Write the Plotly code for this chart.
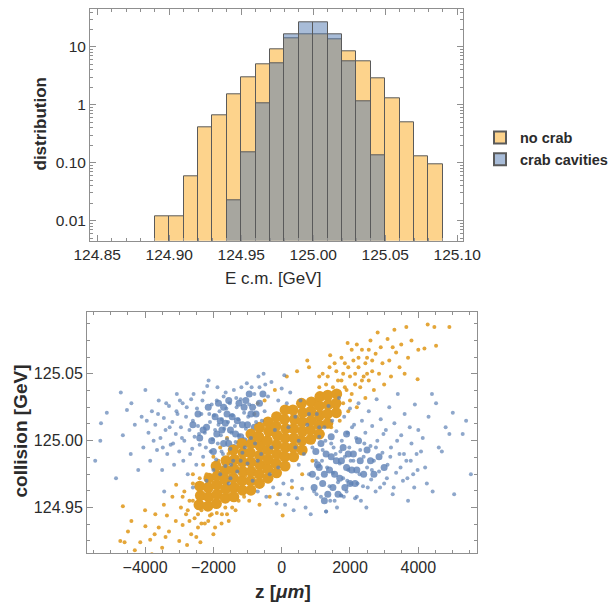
import plotly.graph_objects as go

# ---------------- histogram data ----------------
no_crab_bin_left = [124.89, 124.90, 124.91, 124.92, 124.93, 124.94, 124.95, 124.96, 124.97, 124.98,
                    124.99, 125.00, 125.01, 125.02, 125.03, 125.04, 125.05, 125.06, 125.07, 125.08]
no_crab_values = [0.0117, 0.0117, 0.059, 0.41, 0.66, 1.5, 3.04, 5.0, 9.25, 14.0,
                  16.3, 16.3, 13.6, 8.5, 5.7, 2.9, 1.3, 0.49, 0.13, 0.095]
crab_bin_left = [124.94, 124.95, 124.96, 124.97, 124.98, 124.99, 125.00, 125.01, 125.02, 125.03, 125.04]
crab_values = [0.022, 0.15, 1.07, 5.2, 16.6, 26.7, 26.7, 16.6, 5.7, 1.14, 0.136]
bin_width = 0.01

hist_xticks = [124.85, 124.90, 124.95, 125.00, 125.05, 125.10]
hist_yticks = [0.01, 0.1, 1, 10]
hist_yticktext = ["0.01", "0.10", "1", "10"]

# ---------------- scatter data (z in um, E in GeV) ----------------
crab_halo = [
    (-5460,124.985),(-5290,125.013),(-5310,125.000),(-5120,125.021),(-4710,125.036),(-4850,124.972),
    (-4530,125.023),(-4650,125.004),(-4420,124.990),(-4300,125.012),(-4200,124.978),(-4100,125.018),
    (-4400,125.028),(-4050,124.995),
    (-3990,125.038),(-3900,125.006),(-3850,124.985),(-3800,125.022),(-3700,125.012),(-3650,124.993),
    (-3600,125.030),(-3550,125.002),(-3500,124.978),(-3450,125.017),(-3400,125.008),(-3350,124.990),
    (-3300,125.026),(-3250,124.997),(-3200,125.014),(-3150,124.982),(-3100,125.005),(-3070,125.035),
    (-3050,125.020),(-3000,124.992),(-3440,124.962),
    (-2950,125.010),(-2900,125.028),(-2880,124.985),(-2850,125.000),(-2800,125.018),(-2750,124.975),
    (-2700,125.008),(-2650,125.031),(-2620,124.994),(-2600,125.015),(-2550,125.003),(-2500,124.982),
    (-2480,125.024),(-2450,125.011),(-2400,124.997),(-2350,125.020),(-2300,124.988),(-2280,125.036),
    (-2250,125.006),(-2200,124.970),(-2180,125.041),(-2140,125.045),(-2100,125.014),(-2080,124.992),
    (-2050,125.027),(-2020,125.001),(-2000,124.978),(-2600,124.965),
    (-1980,125.019),(-1950,125.008),(-1920,124.986),(-1900,125.030),(-1870,124.998),(-1850,125.012),
    (-1820,125.022),(-1800,124.975),(-1780,125.004),(-1750,125.016),(-1720,124.990),(-1700,125.033),
    (-1680,125.009),(-1650,124.981),(-1620,125.024),(-1600,125.001),(-1570,125.014),(-1550,124.968),
    (-1520,125.028),(-1500,124.994),(-1470,125.006),(-1450,125.019),(-1420,124.985),(-1400,125.038),
    (-1370,125.011),(-1350,124.999),(-1320,125.025),(-1300,124.977),(-1270,125.016),(-1250,125.004),
    (-1200,125.031),(-1150,124.991),(-1100,125.021),(-1050,125.009),(-1020,125.043),(-1000,124.983),
    (-950,125.027),(-900,125.002),(-850,124.970),(-800,125.035),(-750,125.014),(-700,124.962),
    (-650,125.040),(-600,124.990),(-530,125.050),(-500,125.022),(-450,124.958),(-400,125.033),
    (-350,124.975),(-300,125.044),(-250,124.965),(-200,125.008),(-150,124.953),(-100,125.030),
    (-50,124.960),(0,125.039),
    (50,124.968),(77,125.049),(100,124.952),(150,125.028),(200,124.960),(250,125.036),(300,124.970),
    (350,124.948),(400,125.018),(450,124.957),(500,124.982),(550,125.030),(600,124.964),(650,124.990),
    (700,124.950),(750,125.012),(800,124.975),(850,124.945),(900,124.995),(950,124.962),
    (1000,124.985),(1030,125.020),(1050,124.972),(1100,125.003),(1150,124.958),(1200,124.993),
    (1250,125.010),(1300,124.947),(1330,124.980),(1370,125.026),(1400,124.966),(1450,124.998),
    (1480,125.015),(1500,124.976),(1550,124.955),(1580,124.990),(1600,125.007),(1650,124.969),
    (1680,125.032),(1700,124.983),(1740,124.959),(1760,125.000),(1800,124.972),(1830,125.018),
    (1850,124.988),(1900,124.962),(1930,125.006),(1950,124.978),(1980,124.995),(2000,125.024),
    (2030,124.968),(2060,125.010),(2100,124.985),(2150,124.957),(2180,125.002),(2200,124.958),
    (2250,125.028),(2280,124.975),(2300,124.993),(2350,125.015),(2380,124.966),(2400,124.988),
    (2450,125.006),(2480,124.950),(2500,124.980),(2550,125.022),(2600,124.996),(2620,124.971),
    (2650,125.011),(2700,124.985),(2750,124.962),(2780,125.031),(2800,125.000),(2850,124.977),
    (2900,125.016),(2950,124.991),(3000,124.968),
    (3050,125.008),(3100,124.982),(3150,125.025),(3200,124.995),(3250,124.960),(3300,125.013),
    (3350,124.976),(3400,125.035),(3450,124.990),(3500,125.004),(3550,124.970),(3600,125.020),
    (3650,124.985),(3700,124.955),(3750,125.010),(3800,124.998),(3850,124.975),(3900,125.027),
    (3950,124.990),(4000,125.008),
    (4130,125.002),(4200,124.980),(4300,125.018),(4420,124.962),(4520,125.028),(4600,124.995),
    (4690,124.992),(4800,125.010),(4910,125.005),(5010,125.021),(5050,124.960),(5300,125.005),
    (5400,125.015),(5540,124.975),(4400,125.035),(4250,124.968),(1300,124.947),(1740,124.959),
    (-3950,125.015),(-3750,125.000),(-3620,125.020),(-3480,124.995),(-3380,125.028),(-3280,125.010),
    (-3180,124.998),(-3080,125.022),(-2980,125.030),(-2920,125.002),(-2780,125.025),(-2680,124.990),
    (-2580,125.035),(-2420,125.005),(-2320,125.030),(-2220,124.995),(-2120,125.020),(-1880,125.040),
    (-1760,124.992),(-1640,125.036),(-1480,124.982),(-1330,125.032),(-1180,125.040),(-1080,124.995),
    (-980,125.018),(-880,125.040),(-780,124.998),(-680,125.048),(-580,125.015),(-480,125.042),
    (1020,124.960),(1180,124.985),(1280,125.000),(1420,124.955),(1520,124.995),(1620,124.950),
    (1720,124.992),(1820,124.958),(1920,124.970),(2020,124.985),(2120,125.012),(2220,124.968),
    (2320,124.955),(2420,124.998),(2520,124.965),(2640,124.978),(2760,124.995),(2880,124.965),
    (2980,125.005),(3080,124.972),(3180,124.988),(3280,124.965),(3380,125.000),(3480,124.980),
    (3580,124.990),(3680,124.972),(3780,124.985),(3880,124.965),(3980,124.978),(4080,124.992),
    (-1200,124.985),(-700,124.985),(-300,124.995),(200,125.010),(500,125.000),(800,125.020),
    (-1500,124.972),(1100,125.010),(-100,124.980),(400,124.995),
]
crab_core = [
    (-1900,125.005),(-1800,125.015),(-1700,124.998),(-1600,125.020),(-1500,125.008),(-1400,124.995),
    (-1300,125.015),(-1200,125.003),(-1100,125.025),(-1000,125.012),(-900,125.020),(-800,125.010),
    (-1700,125.025),(-1250,125.028),(-2200,125.010),(-2400,125.002),
    (-2600,125.012),(-2450,125.020),(-2300,125.008),(-2150,125.025),(-2050,125.000),(-1950,125.018),
    (-1850,125.028),(-1750,125.008),(-1650,125.013),(-1550,125.030),(-1450,125.018),(-1350,125.005),
    (-1150,125.012),(-1050,125.030),(-950,125.035),(-850,125.025),(-750,125.020),(-650,125.028),
    (-550,125.035),(-2000,124.992),(-1550,124.998),(-1100,125.000),
    (900,124.975),(1000,124.992),(1100,124.980),(1200,124.968),(1300,124.990),(1400,124.978),
    (1500,124.965),(1600,124.985),(1700,124.972),(1800,124.995),(1900,124.980),(2000,124.968),
    (2100,124.990),(2200,124.978),(1150,124.998),(1650,124.960),(2400,124.975),(2600,124.985),
    (950,124.965),(1050,124.982),(1250,124.975),(1350,124.960),(1450,124.988),(1550,124.975),
    (1750,124.985),(1850,124.965),(1950,124.990),(2050,124.978),(2150,124.968),(2300,124.985),
    (2500,124.993),(2700,124.975),(2850,124.988),(3000,124.980),(2250,125.000),(1900,125.005),
    (1450,125.003),(1250,124.955),
]
no_crab_halo = [
    (-4725,124.925),(-4600,124.924),(-4140,124.924),(-4650,124.951),(-3990,124.936),(-3720,124.930),
    (-3360,124.944),(-4400,124.940),(-4300,124.918),(-4000,124.948),(-3850,124.926),(-3700,124.945),
    (-3600,124.935),(-3500,124.920),(-3450,124.952),(-3300,124.932),(-3200,124.958),(-3100,124.940),
    (-3090,124.967),(-3000,124.925),(-4500,124.932),(-3800,124.915),(-3400,124.928),
    (-2950,124.950),(-2900,124.937),(-2850,124.962),(-2800,124.945),(-2770,124.922),(-2700,124.955),
    (-2650,124.930),(-2600,124.968),(-2550,124.942),(-2500,124.953),(-2450,124.935),(-2400,124.972),
    (-2380,124.924),(-2350,124.948),(-2300,124.960),(-2250,124.938),(-2200,124.975),(-2150,124.952),
    (-2100,124.944),(-2050,124.966),(-2000,124.930),(-2500,124.928),(-2700,124.940),
    (-1980,124.958),(-1950,124.972),(-1900,124.946),(-1850,124.985),(-1800,124.962),(-1760,124.938),
    (-1720,124.978),(-1700,124.955),(-1650,124.968),(-1600,124.945),(-1560,124.990),(-1520,124.960),
    (-1500,124.975),(-1450,124.950),(-1400,124.982),(-1350,124.966),(-1300,124.995),(-1260,124.955),
    (-1220,124.978),(-1200,124.965),(-1150,124.988),(-1100,124.958),(-1060,124.974),(-1000,124.996),
    (-950,124.955),(-800,125.020),(-650,124.952),(-500,125.030),(-350,124.958),(-200,125.038),
    (-100,124.960),(29,124.944),(150,125.048),(300,124.965),(450,125.052),(600,124.975),
    (750,125.060),(900,124.985),(-700,125.028),(800,125.055),
    (1000,125.030),(1050,125.012),(1100,125.040),(1150,125.022),(1200,125.005),(1250,125.035),
    (1300,125.018),(1350,125.048),(1400,125.028),(1420,125.064),(1450,125.010),(1500,125.040),
    (1550,125.025),(1600,125.052),(1650,125.033),(1700,125.015),(1750,125.045),(1800,125.028),
    (1850,125.058),(1900,125.038),(1930,125.073),(1950,125.022),(2000,125.048),
    (2050,125.035),(2100,125.060),(2150,125.042),(2200,125.025),(2250,125.055),(2300,125.040),
    (2350,125.068),(2400,125.048),(2450,125.032),(2500,125.062),(2550,125.045),(2600,125.075),
    (2650,125.052),(2700,125.038),(2750,125.065),(2810,125.081),(2850,125.050),(2900,125.070),
    (2950,125.058),(3000,125.042),
    (3100,125.076),(3150,125.060),(3200,125.048),(3300,125.083),(3350,125.066),(3450,125.055),
    (3500,125.072),(3650,125.085),(3700,125.062),(3800,125.075),(3980,125.046),(4000,125.068),
    (4180,125.069),(4275,125.087),(4470,125.085),(4520,125.071),(4910,125.085),(3600,125.050),
    (3250,125.070),
    (-2900,124.958),(-2750,124.948),(-2600,124.955),(-2450,124.945),(-2350,124.938),(-2250,124.950),
    (-2150,124.940),(-2050,124.945),(-1950,124.935),(-1850,124.952),(-1750,124.945),(-1650,124.950),
    (-1550,124.940),(-1450,124.962),(-1350,124.948),(-2600,124.975),(-2300,124.982),(-2000,124.988),
    (-1800,124.995),(-1600,125.002),
    (1550,125.058),(1650,125.045),(1750,125.062),(1850,125.040),(1950,125.055),(2050,125.068),
    (2150,125.050),(2250,125.062),(2350,125.045),(2450,125.058),(2550,125.068),(2650,125.060),
    (1400,125.055),(1300,125.042),(1200,125.050),(1100,125.048),(2000,125.030),(1800,125.050),
    (2200,125.072),(2500,125.050),
]
no_crab_core = [
    (-2420,124.952),(-2380,124.959),(-2400,124.966),
    (-2160,124.951),(-2140,124.958),(-2150,124.965),(-2130,124.972),
    (-1910,124.953),(-1890,124.960),(-1900,124.967),(-1880,124.974),(-1920,124.981),
    (-1650,124.957),(-1640,124.964),(-1660,124.971),(-1650,124.978),(-1630,124.985),
    (-1400,124.958),(-1390,124.965),(-1410,124.972),(-1400,124.979),(-1380,124.986),(-1420,124.993),
    (-1150,124.963),(-1160,124.970),(-1140,124.977),(-1150,124.984),(-1130,124.991),(-1170,124.998),
    (-900,124.963),(-910,124.970),(-890,124.977),(-900,124.984),(-920,124.991),(-880,124.998),(-900,125.005),
    (-650,124.968),(-660,124.975),(-640,124.982),(-650,124.989),(-630,124.996),(-670,125.003),(-650,125.010),
    (-400,124.972),(-410,124.979),(-390,124.986),(-400,124.993),(-420,125.000),(-380,125.007),(-400,125.014),
    (-150,124.976),(-160,124.983),(-140,124.990),(-150,124.997),(-130,125.004),(-170,125.011),(-150,125.018),
    (100,124.981),(90,124.988),(110,124.995),(100,125.002),(120,125.009),(80,125.016),(100,125.023),
    (350,124.988),(340,124.995),(360,125.002),(350,125.009),(370,125.016),(330,125.023),
    (600,124.993),(590,125.000),(610,125.007),(600,125.014),(620,125.021),(580,125.028),
    (850,125.001),(840,125.008),(860,125.015),(850,125.022),(870,125.029),
    (1100,125.005),(1090,125.012),(1110,125.019),(1100,125.026),(1120,125.033),
    (1350,125.013),(1340,125.020),(1360,125.027),(1350,125.034),
    (1600,125.021),(1590,125.028),(1610,125.035),
]

scatter_xticks = [-4000, -2000, 0, 2000, 4000]
scatter_yticks = [124.95, 125.00, 125.05]

# ---------------- styles ----------------
ORANGE_FILL = "#FDD38C"
BLUE_FILL = "rgba(81,121,177,0.5)"
EDGE = "#5a5a5a"
PT_BLUE = "#5E81B5"
PT_ORANGE = "#E19C24"
FRAME = "#8f8f8f"
TXT = "#2b2b2b"
FONT = "Liberation Sans, Arial, sans-serif"

W, H = 609, 604

def px(x):
    return x / W

def py(y):
    return 1 - y / H

fig = go.Figure()

fig.add_trace(go.Bar(
    x=[b + bin_width / 2 for b in no_crab_bin_left], y=no_crab_values, width=bin_width,
    name="no crab", marker=dict(color=ORANGE_FILL, line=dict(color=EDGE, width=1)),
    xaxis="x", yaxis="y"))
fig.add_trace(go.Bar(
    x=[b + bin_width / 2 for b in crab_bin_left], y=crab_values, width=bin_width,
    name="crab cavities", marker=dict(color=BLUE_FILL, line=dict(color=EDGE, width=1)),
    xaxis="x", yaxis="y"))

def add_pts(pts, color, size, opacity):
    fig.add_trace(go.Scatter(
        x=[p[0] for p in pts], y=[p[1] for p in pts], mode="markers",
        marker=dict(color=color, size=size, opacity=opacity, line=dict(width=0)),
        showlegend=False, xaxis="x2", yaxis="y2", hoverinfo="skip"))

add_pts(no_crab_halo, PT_ORANGE, 4, 0.9)
add_pts(crab_core, PT_BLUE, 7, 0.8)
add_pts(no_crab_core, PT_ORANGE, 11, 1.0)
add_pts(crab_halo, PT_BLUE, 4, 0.7)

tickfont = dict(family=FONT, size=15.5, color=TXT)
common = dict(showline=True, linecolor=FRAME, linewidth=1, mirror="allticks", automargin=False,
              ticks="inside", tickcolor=FRAME, ticklen=6, showgrid=False, zeroline=False)

log_minor = [m * 10 ** e for e in (-3, -2, -1, 0, 1) for m in range(2, 10)]

fig.update_layout(
    template="none",
    width=W, height=H, margin=dict(l=0, r=0, t=0, b=0, pad=0, autoexpand=False),
    paper_bgcolor="white", plot_bgcolor="white",
    barmode="overlay", bargap=0,
    font=dict(family=FONT, color=TXT),
    xaxis=dict(domain=[px(90), px(463)], anchor="y", range=[124.845, 125.104],
               tickvals=hist_xticks, tickformat=".2f", tickfont=tickfont,
               minor=dict(ticks="inside", ticklen=3, tickcolor=FRAME, dtick=0.01, tick0=124.85),
               **common),
    yaxis=dict(domain=[py(240.7), py(9.3)], anchor="x", type="log", range=[-2.347, 1.650],
               tickvals=hist_yticks, ticktext=hist_yticktext, tickfont=tickfont,
               minor=dict(ticks="inside", ticklen=3, tickcolor=FRAME, tickmode="array", tickvals=log_minor),
               **common),
    xaxis2=dict(domain=[px(87), px(476.7)], anchor="y2", range=[-5700, 5710],
                tickvals=scatter_xticks, tickfont=dict(family=FONT, size=16, color=TXT),
                minor=dict(ticks="inside", ticklen=3, tickcolor=FRAME, dtick=500, tick0=0),
                **common),
    yaxis2=dict(domain=[py(553), py(311.7)], anchor="x2", range=[124.916, 125.0965],
                tickvals=scatter_yticks, tickformat=".2f", tickfont=dict(family=FONT, size=16, color=TXT),
                minor=dict(ticks="inside", ticklen=3, tickcolor=FRAME, dtick=0.0125, tick0=124.95),
                **common),
    legend=dict(x=px(480), y=py(148.5), xanchor="left", yanchor="middle",
                font=dict(family=FONT, size=14.5, color=TXT, weight="bold"),
                bgcolor="rgba(0,0,0,0)", borderwidth=0, tracegroupgap=0, itemsizing="constant"),
    showlegend=True,
)

fig.add_annotation(text="distribution", x=px(40), y=py(124.5), xref="paper", yref="paper",
                   textangle=-90, showarrow=False, font=dict(family=FONT, size=17, color=TXT, weight="bold"),
                   xanchor="center", yanchor="middle")
fig.add_annotation(text="E c.m. [GeV]", x=px(273), y=py(278), xref="paper", yref="paper",
                   showarrow=False, font=dict(family=FONT, size=17, color=TXT),
                   xanchor="center", yanchor="middle")
fig.add_annotation(text="collision [GeV]", x=px(20), y=py(431.5), xref="paper", yref="paper",
                   textangle=-90, showarrow=False, font=dict(family=FONT, size=19, color=TXT, weight="bold"),
                   xanchor="center", yanchor="middle")
fig.add_annotation(text="z [<i>μm</i>]", x=px(283), y=py(591.7), xref="paper", yref="paper",
                   showarrow=False, font=dict(family=FONT, size=19, color=TXT, weight="bold"),
                   xanchor="center", yanchor="middle")

fig.write_html("out.html", config={"displayModeBar": False},
               post_script="document.body.style.margin='0px';document.body.style.overflow='hidden';")
